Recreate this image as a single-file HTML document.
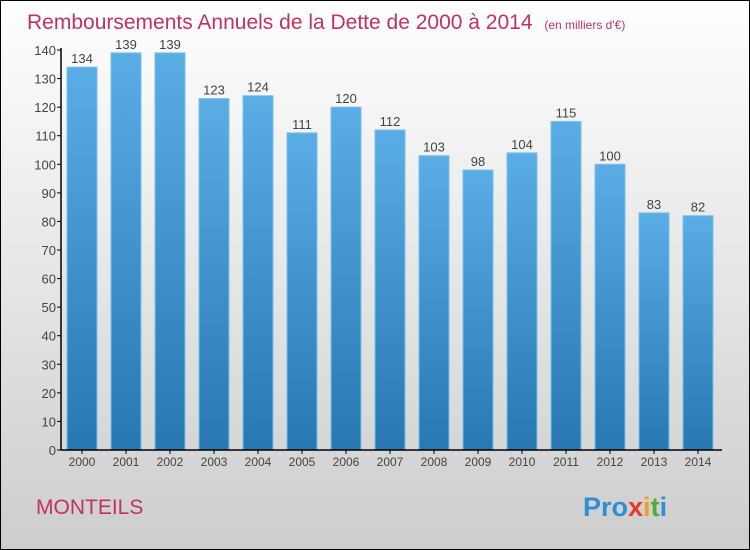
<!DOCTYPE html>
<html><head><meta charset="utf-8"><style>
body{margin:0}
svg{display:block;font-family:"Liberation Sans",sans-serif}
</style></head><body>
<svg id="chart" width="750" height="550">
<defs>
<linearGradient id="bg" x1="0" y1="0" x2="0" y2="1"><stop offset="0" stop-color="#ffffff"/><stop offset="1" stop-color="#cdcdcd"/></linearGradient>
<linearGradient id="bar" x1="0" y1="0" x2="0" y2="1"><stop offset="0" stop-color="#5aade5"/><stop offset="1" stop-color="#2777b3"/></linearGradient>
</defs>
<rect x="0.5" y="0.5" width="749" height="549" fill="url(#bg)" stroke="#000"/>
<text x="27" y="29" font-size="21" fill="#c0325f">Remboursements Annuels de la Dette de 2000 à 2014 <tspan font-size="12" dx="6">(en milliers d'€)</tspan></text>
<g id="plot"></g>
<text x="36" y="514" font-size="21" fill="#c0325f">MONTEILS</text>
<text x="583" y="516" font-size="27" font-weight="bold"><tspan fill="#2e8fd6">Pro</tspan><tspan fill="#e23a2a">x</tspan><tspan fill="#f0a020">i</tspan><tspan fill="#4fae3a">t</tspan><tspan fill="#2e8fd6">i</tspan></text>
</svg>
<script>
const categories=["2000","2001","2002","2003","2004","2005","2006","2007","2008","2009","2010","2011","2012","2013","2014"];
const values=[134,139,139,123,124,111,120,112,103,98,104,115,100,83,82];
const yTicks=[0,10,20,30,40,50,60,70,80,90,100,110,120,130,140];
const NS="http://www.w3.org/2000/svg";
const g=document.getElementById('plot');
const x0=61,y0=450,yTop=50,yMax=140,step=44,bw=30,firstCenter=82;
const y=v=>y0-(v/yMax)*(y0-yTop);
const xc=i=>firstCenter+i*step;
function mk(t,a){const e=document.createElementNS(NS,t);for(const k in a)e.setAttribute(k,a[k]);g.appendChild(e);return e;}
yTicks.forEach(t=>{
 const l=mk('line',{x1:x0-4,x2:x0,y1:y(t),y2:y(t),stroke:'#000'});
 
 
 const tx=mk('text',{x:x0-5,y:y(t)+5,'font-size':13,fill:'#444','text-anchor':'end'});tx.textContent=t;
 
 
});
categories.forEach((c,i)=>{
 const v=values[i];
 const r=mk('rect',{x:xc(i)-bw/2,y:y(v),width:bw,height:y0-y(v),fill:'url(#bar)',stroke:'#7cc0ee','stroke-width':1});
 
 
 const vl=mk('text',{x:xc(i),y:y(v)-4,'font-size':13,fill:'#444','text-anchor':'middle'});vl.textContent=v;
 
 
 const tk=mk('line',{x1:xc(i),x2:xc(i),y1:y0,y2:y0+4,stroke:'#000'});
 
 
 const xl=mk('text',{x:xc(i),y:y0+16,'font-size':12,fill:'#444','text-anchor':'middle'});xl.textContent=c;
 
 
});
const ya=mk('line',{x1:x0,x2:x0,y1:yTop-2,y2:y0,stroke:'#000','stroke-width':1.5});


const xa=mk('line',{x1:x0,x2:722,y1:y0,y2:y0,stroke:'#000','stroke-width':1.5});


</script>
</body></html>
